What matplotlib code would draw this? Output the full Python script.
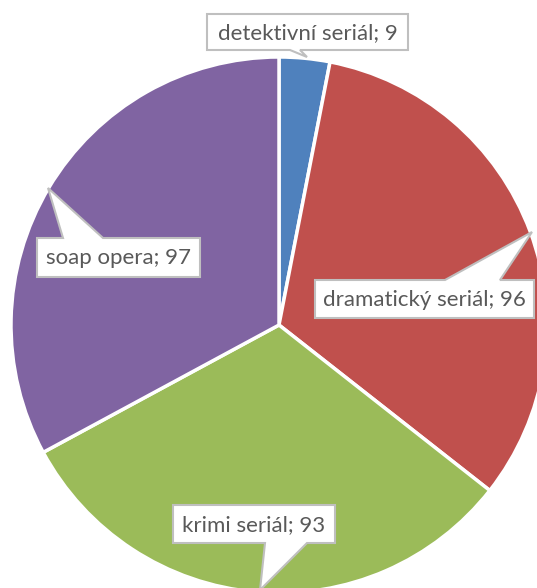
import numpy as np
import matplotlib.pyplot as plt
from matplotlib.patches import Polygon

labels = ["detektivní seriál", "dramatický seriál", "krimi seriál", "soap opera"]
values = [9, 96, 93, 97]
colors = ["#4F81BD", "#C0504D", "#9BBB59", "#8064A2"]

W, H = 537, 588
fig = plt.figure(figsize=(W / 100, H / 100), dpi=100)
ax = fig.add_axes([0, 0, 1, 1])

# pie in pixel coordinates (y flipped so 0 is bottom)
cx, cy, r = 279, H - 325, 268
ax.pie(values, colors=colors, startangle=90, counterclock=False,
       center=(cx, cy), radius=r,
       wedgeprops=dict(edgecolor="white", linewidth=2.5))
ax.set_xlim(0, W)
ax.set_ylim(0, H)
ax.set_aspect("equal")
ax.axis("off")


def callout(box, side, base, tip, text):
    # box = (x0, y0, x1, y1) in image pixels (y down)
    x0, y0, x1, y1 = box
    b0, b1 = base
    if side == "bottom":
        pts = [(x0, y0), (x1, y0), (x1, y1), (b1, y1), tip, (b0, y1), (x0, y1)]
    else:
        pts = [(x0, y0), (b0, y0), tip, (b1, y0), (x1, y0), (x1, y1), (x0, y1)]
    pts = [(x, H - y) for x, y in pts]
    ax.add_patch(Polygon(pts, closed=True, facecolor="white",
                         edgecolor="#BFBFBF", linewidth=1.5, zorder=5,
                         clip_on=False))
    ax.text((x0 + x1) / 2, H - (y0 + y1) / 2 - 1, text, ha="center", va="center",
            fontsize=16, color="#595959", family="Lato", zorder=6)


callout((207, 14, 408, 50), "bottom", (290, 300), (307, 57),
        f"{labels[0]}; {values[0]}")
callout((315, 280, 534, 318), "top", (445, 500), (532, 232),
        f"{labels[1]}; {values[1]}")
callout((173, 505, 335, 543), "bottom", (265, 307), (260, 590),
        f"{labels[2]}; {values[2]}")
callout((37, 238, 200, 277), "top", (63, 103), (48, 188),
        f"{labels[3]}; {values[3]}")

fig.savefig("out.png", dpi=100)
